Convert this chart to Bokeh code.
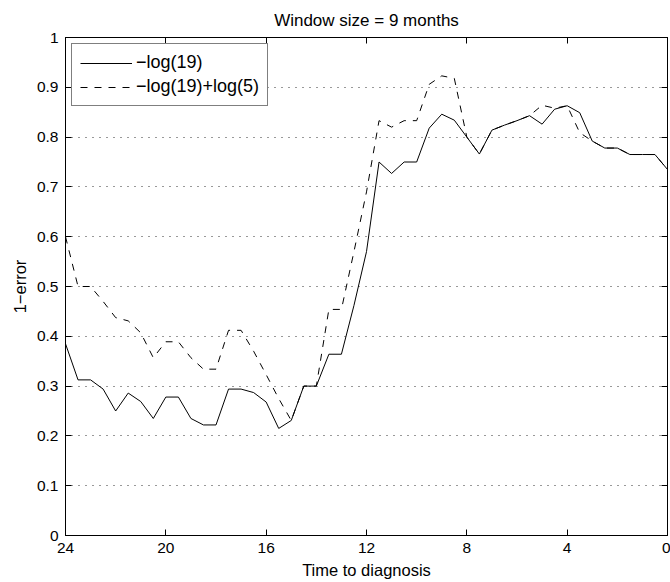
from bokeh.plotting import figure
from bokeh.models import (ColumnDataSource, Range1d, LinearAxis, FixedTicker,
                          CustomJSTickFormatter, Legend, LegendItem)
from bokeh.embed import file_html
from bokeh.resources import INLINE

# Months before diagnosis, sampled every half month
months = [24, 23.5, 23, 22.5, 22, 21.5, 21, 20.5, 20, 19.5, 19, 18.5, 18,
          17.5, 17, 16.5, 16, 15.5, 15, 14.5, 14, 13.5, 13, 12.5, 12, 11.5,
          11, 10.5, 10, 9.5, 9, 8.5, 8, 7.5, 7, 6.5, 6, 5.5, 5, 4.5, 4, 3.5,
          3, 2.5, 2, 1.5, 1, 0.5, 0]

# 1 - error for threshold -log(19)
acc_base = [0.385, 0.3125, 0.3125, 0.294, 0.25, 0.286, 0.269, 0.235, 0.278,
            0.278, 0.235, 0.222, 0.222, 0.294, 0.294, 0.287, 0.268, 0.215,
            0.231, 0.300, 0.300, 0.364, 0.364, 0.462, 0.570, 0.750, 0.727,
            0.750, 0.750, 0.818, 0.846, 0.834, 0.800, 0.766, 0.814, 0.824,
            0.833, 0.843, 0.826, 0.856, 0.863, 0.849, 0.792, 0.778, 0.778,
            0.765, 0.765, 0.765, 0.735]

# 1 - error for threshold -log(19)+log(5)
acc_shift = [0.600, 0.500, 0.500, 0.470, 0.4375, 0.431, 0.407, 0.357, 0.389,
             0.389, 0.357, 0.334, 0.334, 0.412, 0.412, 0.370, 0.323, 0.275,
             0.231, 0.300, 0.300, 0.454, 0.454, 0.570, 0.690, 0.833, 0.820,
             0.833, 0.833, 0.906, 0.923, 0.918, 0.800, 0.766, 0.814, 0.824,
             0.833, 0.843, 0.864, 0.858, 0.863, 0.809, 0.792, 0.778, 0.778,
             0.765, 0.765, 0.765, 0.735]

x_ticks = [24, 20, 16, 12, 8, 4, 0]
y_ticks = [0, 0.1, 0.2, 0.3, 0.4, 0.5, 0.6, 0.7, 0.8, 0.9, 1]

FONT = "Liberation Sans"

src = ColumnDataSource(dict(t=months, base=acc_base, shift=acc_shift))

p = figure(width=670, height=582, output_backend="svg", toolbar_location=None,
           x_range=Range1d(24, 0), y_range=Range1d(0, 1),
           min_border_left=65, min_border_right=3, min_border_top=37,
           min_border_bottom=47, title="Window size = 9 months")
p.background_fill_color = "white"
p.border_fill_color = "white"
p.outline_line_color = "black"
p.outline_line_width = 1

p.title.align = "center"
p.title.text_font = FONT
p.title.text_font_size = "17px"
p.title.text_font_style = "normal"
p.title.text_color = "black"
p.title.text_line_height = 0.6
p.title.standoff = 16

r1 = p.line("t", "base", source=src, line_color="black", line_width=1)
r2 = p.line("t", "shift", source=src, line_color="black", line_width=1,
            line_dash="7 7")

fmt = CustomJSTickFormatter(code="return (Math.round(tick*10)/10).toString();")


def style_axis(ax, ticks, show_labels=True):
    ax.ticker = FixedTicker(ticks=ticks)
    ax.axis_line_color = "black"
    ax.major_tick_line_color = "black"
    ax.major_tick_in = 6
    ax.major_tick_out = 0
    ax.minor_tick_line_color = None
    if show_labels:
        ax.major_label_text_font = FONT
        ax.major_label_text_font_size = "15.5px"
        ax.major_label_text_color = "black"
        ax.axis_label_text_font = FONT
        ax.axis_label_text_font_size = "16.5px"
        ax.axis_label_text_font_style = "normal"
        ax.axis_label_text_color = "black"
    else:
        # tick marks only, no numbers on the mirrored axes
        ax.major_label_text_font_size = "0px"
        ax.major_label_text_color = None
        ax.major_label_standoff = 0


xa = p.xaxis[0]
style_axis(xa, x_ticks)
xa.axis_label = "Time to diagnosis"
xa.major_label_standoff = 7
xa.axis_label_standoff = 5

ya = p.yaxis[0]
style_axis(ya, y_ticks)
ya.formatter = fmt
ya.axis_label = "1\u2212error"
ya.major_label_standoff = 7
ya.axis_label_standoff = 5

top_ax = LinearAxis()
style_axis(top_ax, x_ticks, show_labels=False)
p.add_layout(top_ax, "above")
right_ax = LinearAxis()
style_axis(right_ax, y_ticks, show_labels=False)
p.add_layout(right_ax, "right")

p.xgrid.grid_line_color = None
p.ygrid.ticker = FixedTicker(ticks=y_ticks[1:-1])
p.ygrid.grid_line_color = "#333333"
p.ygrid.grid_line_dash = "1 6"
p.ygrid.grid_line_width = 1

legend = Legend(items=[LegendItem(label="\u2212log(19)", renderers=[r1]),
                       LegendItem(label="\u2212log(19)+log(5)", renderers=[r2])],
                location="top_left")
legend.margin = 6
legend.padding = 8
legend.spacing = 3
legend.glyph_width = 52
legend.glyph_height = 18
legend.label_standoff = 4
legend.label_text_font = FONT
legend.label_text_font_size = "18px"
legend.label_text_color = "black"
legend.label_height = 18
legend.border_line_color = "black"
legend.border_line_width = 1
legend.background_fill_alpha = 1
p.add_layout(legend)

open("out.html", "w").write(file_html(p, INLINE))
